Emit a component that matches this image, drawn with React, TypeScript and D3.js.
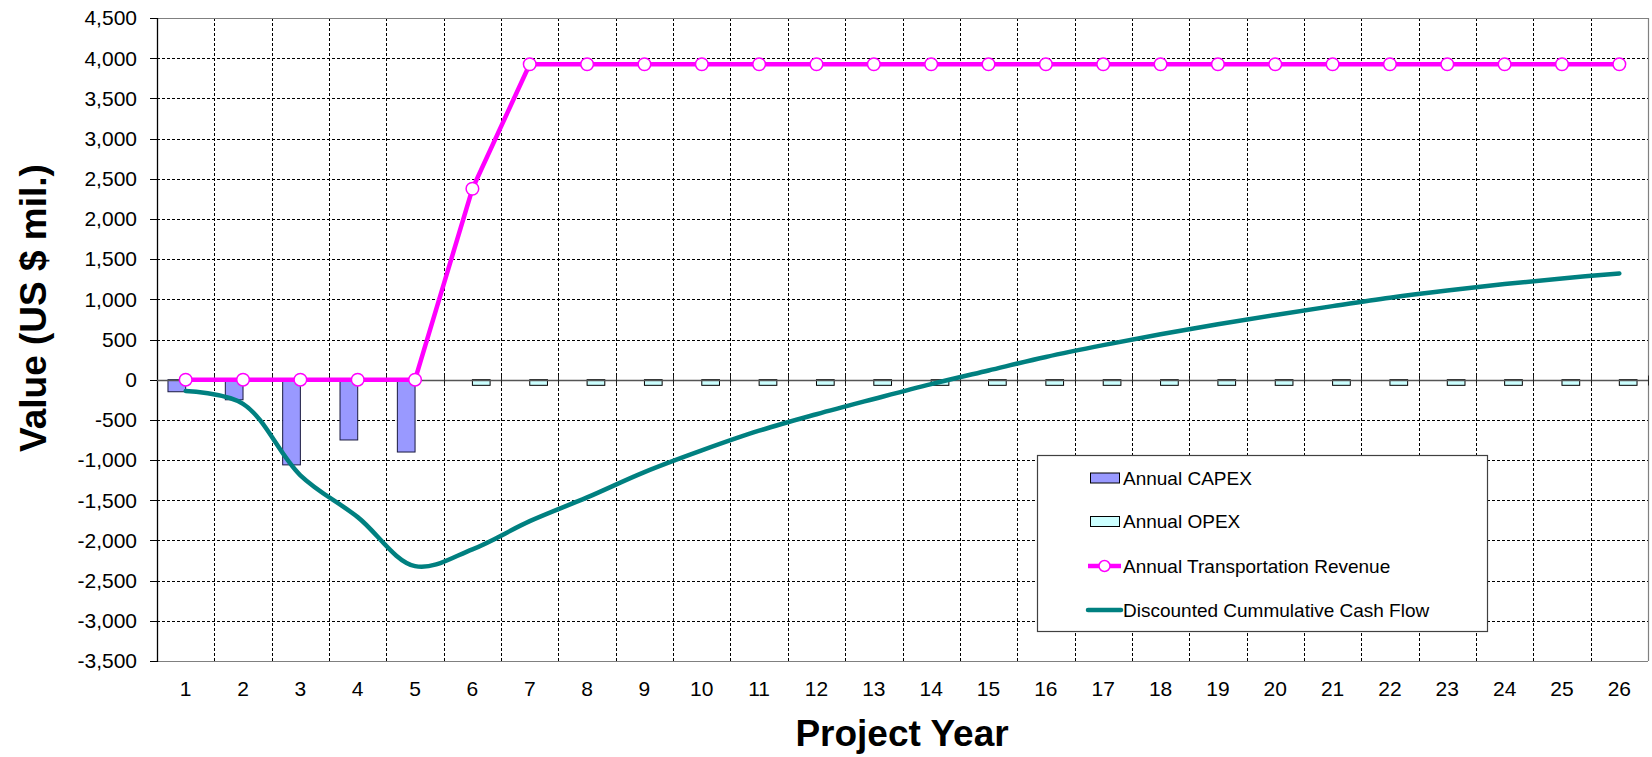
import React from 'react';
import * as d3 from 'd3';

const W = 1652;
const H = 757;

// Project years shown on the category axis
const years = [1, 2, 3, 4, 5, 6, 7, 8, 9, 10, 11, 12, 13, 14, 15, 16, 17, 18, 19, 20, 21, 22, 23, 24, 25, 26];

// Annual CAPEX (US $ mil.), construction years only
const capex: (number | null)[] = [-150, -250, -1060, -750, -900, null, null, null, null, null, null, null, null, null, null, null, null, null, null, null, null, null, null, null, null, null];

// Annual OPEX (US $ mil.), operating years only
const opex: (number | null)[] = [null, null, null, null, null, -70, -70, -70, -70, -70, -70, -70, -70, -70, -70, -70, -70, -70, -70, -70, -70, -70, -70, -70, -70, -70];

// Annual transportation revenue (US $ mil.)
const revenue = [0, 0, 0, 0, 0, 2375, 3925, 3925, 3925, 3925, 3925, 3925, 3925, 3925, 3925, 3925, 3925, 3925, 3925, 3925, 3925, 3925, 3925, 3925, 3925, 3925];

// Discounted cumulative cash flow (US $ mil.)
const cashFlow = [-140, -300, -1190, -1710, -2320, -2110, -1760, -1465, -1150, -880, -635, -430, -240, -55, 115, 283, 430, 565, 690, 805, 915, 1020, 1110, 1190, 1260, 1322];

const yTicks = [4500, 4000, 3500, 3000, 2500, 2000, 1500, 1000, 500, 0, -500, -1000, -1500, -2000, -2500, -3000, -3500];

const legendLabels = ['Annual CAPEX', 'Annual OPEX', 'Annual Transportation Revenue', 'Discounted Cummulative Cash Flow'];

const FONT = '"Liberation Sans", Arial, Helvetica, sans-serif';
const CAPEX_FILL = '#9999FF';
const OPEX_FILL = '#CCFFFF';
const MAGENTA = '#FF00FF';
const TEAL = '#008080';

// thousands separator with a plain hyphen-minus for negatives
const locale = d3.formatLocale({ decimal: '.', thousands: ',', grouping: [3], currency: ['$', ''], minus: '-' });
const fmt = locale.format(',');

export default function App() {
  const left = 157;
  const right = 1648;
  const top = 18;
  const bottom = 661;

  const x = d3.scaleBand<number>().domain(years).range([left, right]).paddingInner(0).paddingOuter(0);
  const xs = d3.scaleBand<string>().domain(['capex', 'opex']).range([0, x.bandwidth()]).paddingInner(0).paddingOuter(0.62);
  const y = d3.scaleLinear().domain([-3500, 4500]).range([bottom, top]);
  const cx = (yr: number) => (x(yr) as number) + x.bandwidth() / 2;

  const revLine = d3
    .line<number>()
    .x((_, i) => cx(years[i]))
    .y((d) => y(d))
    .curve(d3.curveLinear);

  const cashLine = d3
    .line<number>()
    .x((_, i) => cx(years[i]))
    .y((d) => y(d))
    .curve(d3.curveCatmullRom.alpha(0.5));

  const boundaries = years.slice(1).map((yr) => Math.round(x(yr) as number) + 0.5);
  const y0 = Math.round(y(0)) + 0.5;

  const lgX = 1037.5;
  const lgY = 455.5;
  const lgW = 450;
  const lgH = 176;
  const rowY = [478, 521.5, 566, 610];

  return (
    <svg width={W} height={H} style={{ position: 'absolute', left: 0, top: 0, background: '#fff' }} fontFamily={FONT}>
      {/* horizontal gridlines */}
      {yTicks
        .filter((t) => t !== 4500 && t !== -3500 && t !== 0)
        .map((t) => (
          <line key={'h' + t} x1={left} x2={right} y1={Math.round(y(t)) + 0.5} y2={Math.round(y(t)) + 0.5} stroke="#000" strokeWidth={1} strokeDasharray="3,2" />
        ))}
      {/* vertical gridlines at category boundaries */}
      {boundaries.map((bx, i) => (
        <line key={'v' + i} x1={bx} x2={bx} y1={top} y2={bottom} stroke="#000" strokeWidth={1} strokeDasharray="3,2" />
      ))}
      {/* plot border */}
      <line x1={left} x2={right} y1={top + 0.5} y2={top + 0.5} stroke="#808080" strokeWidth={1.2} />
      <line x1={left} x2={right} y1={bottom + 0.5} y2={bottom + 0.5} stroke="#808080" strokeWidth={1.2} />
      <line x1={right + 0.5} x2={right + 0.5} y1={top} y2={bottom} stroke="#808080" strokeWidth={1.2} />

      {/* value axis */}
      <line x1={left + 0.5} x2={left + 0.5} y1={top} y2={bottom + 1} stroke="#000" strokeWidth={1.3} />
      {yTicks.map((t) => (
        <g key={'yt' + t}>
          <line x1={150} x2={left} y1={Math.round(y(t)) + 0.5} y2={Math.round(y(t)) + 0.5} stroke="#000" strokeWidth={1} />
          <text x={137} y={y(t)} dy="0.35em" textAnchor="end" fontSize={21} fill="#000">
            {fmt(t)}
          </text>
        </g>
      ))}

      {/* CAPEX bars */}
      {years.map((yr, i) => {
        const v = capex[i];
        if (v == null) return null;
        const bx = (x(yr) as number) + (xs('capex') as number);
        return (
          <rect key={'c' + yr} x={bx} y={y(0)} width={xs.bandwidth()} height={y(v) - y(0)} fill={CAPEX_FILL} stroke="#1a1a40" strokeWidth={1} />
        );
      })}
      {/* OPEX bars */}
      {years.map((yr, i) => {
        const v = opex[i];
        if (v == null) return null;
        const bx = (x(yr) as number) + (xs('opex') as number);
        return (
          <rect key={'o' + yr} x={bx} y={y(0)} width={xs.bandwidth()} height={y(v) - y(0)} fill={OPEX_FILL} stroke="#000" strokeWidth={1} />
        );
      })}

      {/* category axis along zero */}
      <line x1={left} x2={right} y1={y0} y2={y0} stroke="#555" strokeWidth={1.4} />
      {boundaries.concat([right + 0.5]).map((bx, i) => (
        <line key={'xt' + i} x1={bx} x2={bx} y1={y0 - 5} y2={y0 + 5} stroke="#222" strokeWidth={1} />
      ))}

      {/* cumulative cash flow */}
      <path d={cashLine(cashFlow) || ''} fill="none" stroke={TEAL} strokeWidth={4.5} strokeLinecap="round" strokeLinejoin="round" />

      {/* revenue */}
      <path d={revLine(revenue) || ''} fill="none" stroke={MAGENTA} strokeWidth={4.5} strokeLinejoin="round" />
      {revenue.map((v, i) => (
        <circle key={'r' + i} cx={cx(years[i])} cy={y(v)} r={6.3} fill="#fff" stroke={MAGENTA} strokeWidth={1.5} />
      ))}

      {/* category labels */}
      {years.map((yr) => (
        <text key={'xl' + yr} x={cx(yr)} y={689} dy="0.35em" textAnchor="middle" fontSize={21} fill="#000">
          {yr}
        </text>
      ))}

      {/* axis titles */}
      <text x={902} y={746} textAnchor="middle" fontSize={37} fontWeight="bold" fill="#000">
        Project Year
      </text>
      <text transform={`translate(46, 308) rotate(-90)`} textAnchor="middle" fontSize={37} fontWeight="bold" fill="#000">
        Value (US $ mil.)
      </text>

      {/* legend */}
      <rect x={lgX} y={lgY} width={lgW} height={lgH} fill="#fff" stroke="#404040" strokeWidth={1.2} />
      <rect x={1090.5} y={rowY[0] - 5} width={29} height={10} fill={CAPEX_FILL} stroke="#000" strokeWidth={1} />
      <rect x={1090.5} y={rowY[1] - 5} width={29} height={10} fill={OPEX_FILL} stroke="#000" strokeWidth={1} />
      <line x1={1088} x2={1121} y1={rowY[2]} y2={rowY[2]} stroke={MAGENTA} strokeWidth={4.5} />
      <circle cx={1104.5} cy={rowY[2]} r={5.5} fill="#fff" stroke={MAGENTA} strokeWidth={1.5} />
      <line x1={1088} x2={1121} y1={rowY[3]} y2={rowY[3]} stroke={TEAL} strokeWidth={4.5} strokeLinecap="round" />
      {legendLabels.map((lab, i) => (
        <text key={'lg' + i} x={1123} y={rowY[i]} dy="0.35em" fontSize={19} fill="#000">
          {lab}
        </text>
      ))}
    </svg>
  );
}
